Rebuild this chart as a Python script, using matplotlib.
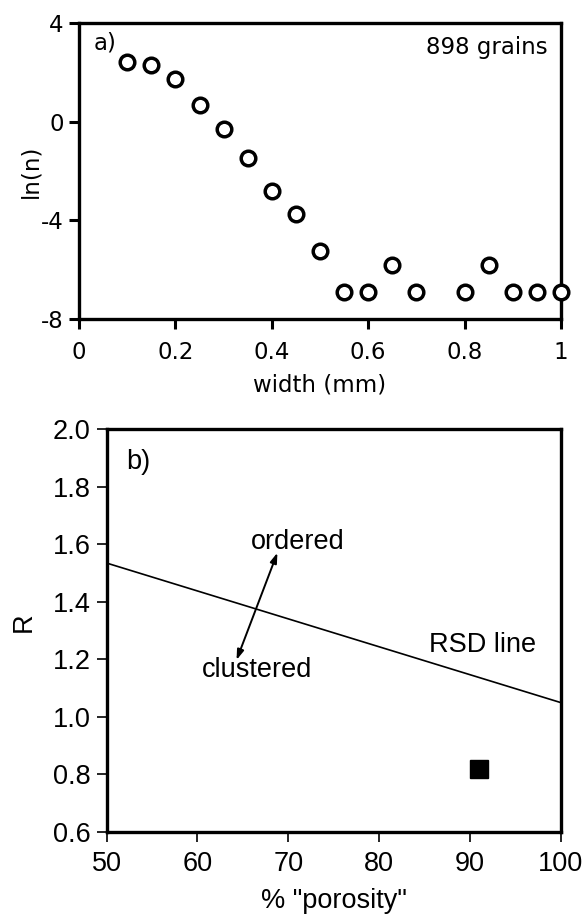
import matplotlib
matplotlib.use('Agg')
import matplotlib.pyplot as plt

# panel a: grain width distribution
width_mm = [0.10, 0.15, 0.20, 0.25, 0.30, 0.35, 0.40, 0.45, 0.50,
            0.55, 0.60, 0.65, 0.70, 0.80, 0.85, 0.90, 0.95, 1.00]
ln_n = [2.41, 2.31, 1.74, 0.66, -0.30, -1.49, -2.82, -3.73, -5.25,
        -6.92, -6.92, -5.83, -6.92, -6.92, -5.83, -6.92, -6.92, -6.92]
a_xticks = [0, 0.2, 0.4, 0.6, 0.8, 1]
a_xlabels = ['0', '0.2', '0.4', '0.6', '0.8', '1']
a_yticks = [4, 0, -4, -8]
a_ylabels = ['4', '0', '-4', '-8']

# panel b: R vs porosity
porosity = [91]
r_value = [0.82]
rsd_x = [50, 100]
rsd_r = [1.535, 1.05]
b_xticks = [50, 60, 70, 80, 90, 100]
b_yticks = [0.6, 0.8, 1.0, 1.2, 1.4, 1.6, 1.8, 2.0]
b_ylabels = ['0.6', '0.8', '1.0', '1.2', '1.4', '1.6', '1.8', '2.0']

FONT_A = 'DejaVu Sans'
FONT_B = 'Liberation Sans'
SIZE_A = 16.5
SIZE_B = 19.5

fig = plt.figure(figsize=(5.84, 9.17), dpi=100)

# ---- panel a ----
ax1 = fig.add_axes([0.1353, 0.6521, 0.8253, 0.3228])
ax1.plot(width_mm, ln_n, 'o', markersize=10.5, markerfacecolor='white',
         markeredgecolor='black', markeredgewidth=2.5, clip_on=False, zorder=3)
ax1.set_xlim(0, 1)
ax1.set_ylim(-8, 4)
ax1.set_xticks(a_xticks)
ax1.set_xticklabels(a_xlabels, fontfamily=FONT_A, fontsize=SIZE_A)
ax1.set_yticks(a_yticks)
ax1.set_yticklabels(a_ylabels, fontfamily=FONT_A, fontsize=SIZE_A)
ax1.tick_params(direction='out', length=7, width=2.2)
ax1.tick_params(axis='x', pad=9)
ax1.tick_params(axis='y', pad=4)
for sp in ax1.spines.values():
    sp.set_linewidth(2.4)
ax1.set_xlabel('width (mm)', fontfamily=FONT_A, fontsize=SIZE_A, labelpad=7)
ax1.set_ylabel('ln(n)', fontfamily=FONT_A, fontsize=SIZE_A)
ax1.yaxis.label.set_va('center')
ax1.yaxis.set_label_coords(-0.10, 0.5)
ax1.text(0.03, 3.19, 'a)', fontfamily=FONT_A, fontsize=SIZE_A, ha='left', va='center')
ax1.text(0.972, 2.99, '898 grains', fontfamily=FONT_A, fontsize=SIZE_A,
         ha='right', va='center')

# ---- panel b ----
ax2 = fig.add_axes([0.1827, 0.0927, 0.7774, 0.4391])
ax2.plot(rsd_x, rsd_r, color='black', linewidth=1.2)
ax2.plot(porosity, r_value, 's', markersize=13.5, color='black')
ax2.annotate('', xy=(68.8, 1.571), xytext=(64.3, 1.198),
             arrowprops=dict(arrowstyle='<|-|>,head_length=0.6,head_width=0.2',
                             color='black', lw=1.4, shrinkA=0, shrinkB=0))
ax2.text(65.9, 1.61, 'ordered', fontfamily=FONT_B, fontsize=SIZE_B, ha='left', va='center')
ax2.text(60.5, 1.163, 'clustered', fontfamily=FONT_B, fontsize=SIZE_B, ha='left', va='center')
ax2.text(85.5, 1.25, 'RSD line', fontfamily=FONT_B, fontsize=SIZE_B, ha='left', va='center')
ax2.text(52.2, 1.886, 'b)', fontfamily=FONT_B, fontsize=SIZE_B, ha='left', va='center')
ax2.set_xlim(50, 100)
ax2.set_ylim(0.6, 2.0)
ax2.set_xticks(b_xticks)
ax2.set_xticklabels([str(v) for v in b_xticks], fontfamily=FONT_B, fontsize=SIZE_B)
ax2.set_yticks(b_yticks)
ax2.set_yticklabels(b_ylabels, fontfamily=FONT_B, fontsize=SIZE_B)
ax2.tick_params(direction='out', length=7.5, width=1.2)
ax2.tick_params(axis='x', pad=6)
ax2.tick_params(axis='y', pad=4)
for sp in ax2.spines.values():
    sp.set_linewidth(2.4)
ax2.set_xlabel('% "porosity"', fontfamily=FONT_B, fontsize=SIZE_B, labelpad=8)
ax2.set_ylabel('R', fontfamily=FONT_B, fontsize=SIZE_B)
ax2.yaxis.label.set_va('center')
ax2.yaxis.set_label_coords(-0.182, 0.52)

fig.savefig('out.png', dpi=100)
